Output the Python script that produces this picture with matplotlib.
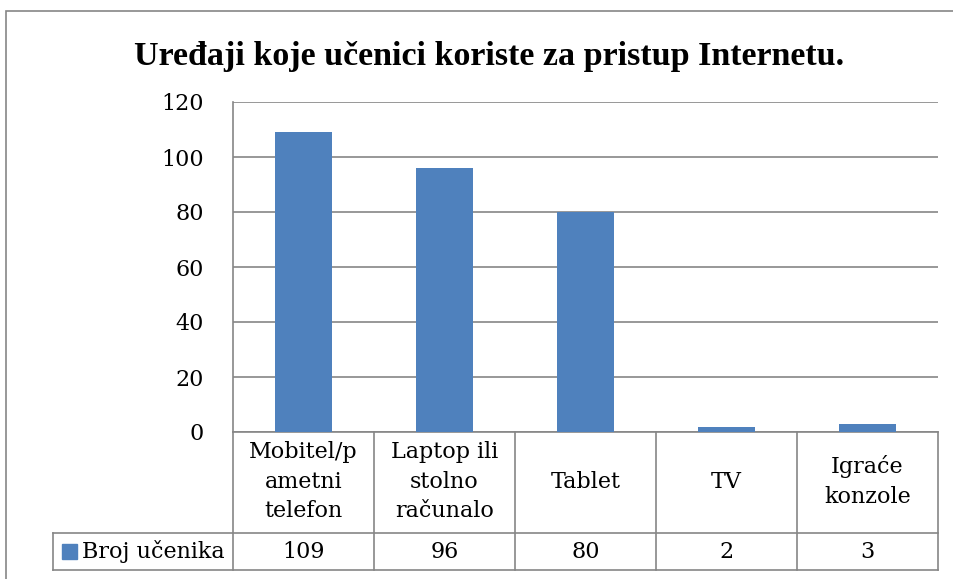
import matplotlib.pyplot as plt
from matplotlib.patches import Rectangle
from matplotlib.transforms import blended_transform_factory

categories = ["Mobitel/p\nametni\ntelefon", "Laptop ili\nstolno\nračunalo", "Tablet", "TV", "Igraće\nkonzole"]
values = [109, 96, 80, 2, 3]
series_name = "Broj učenika"
y_ticks = [0, 20, 40, 60, 80, 100, 120]
title = "Uređaji koje učenici koriste za pristup Internetu."

plt.rcParams["font.family"] = ["DejaVu Serif"]
bar_color = "#4F81BD"
line_color = "#868686"
fs = 16

W, H = 954, 579
fig = plt.figure(figsize=(W / 100, H / 100), dpi=100)

# outer chart border (extends past right/bottom edge like the crop)
fig.patches.append(Rectangle((6 / W, -0.1), 1.2, 1 - 11 / H + 0.1, transform=fig.transFigure,
                             fill=False, edgecolor=line_color, linewidth=1.2))

left, right, top, bottom = 233, 938, 102, 432
ax = fig.add_axes([left / W, 1 - bottom / H, (right - left) / W, (bottom - top) / H])

x = list(range(len(values)))
ax.bar(x, values, width=0.4, color=bar_color, zorder=3)
ax.set_xlim(-0.5, len(values) - 0.5)
ax.set_ylim(0, 120)
ax.set_yticks(y_ticks)
ax.tick_params(axis="y", length=0, pad=21, labelsize=fs)
ax.set_xticks([])
ax.yaxis.grid(True, color=line_color, linewidth=1.2, zorder=0)
for s in ["top", "right"]:
    ax.spines[s].set_visible(False)
for s in ["left", "bottom"]:
    ax.spines[s].set_color(line_color)
    ax.spines[s].set_linewidth(1.2)

fig.text(489 / W, 1 - 56 / H, title, ha="center", va="center", fontsize=24.5,
         fontweight="bold", family="Liberation Serif")

# data table below the plot
tr = blended_transform_factory(ax.transData, ax.transAxes)
px = (right - left) / len(values)   # pixels per category
ph = bottom - top
row1 = -(533 - bottom) / ph
row2 = -(570 - bottom) / ph
leg_left = -0.5 - (left - 53) / px
n = len(values)
kw = dict(color=line_color, linewidth=1.2, transform=tr, clip_on=False)
for b in range(n + 1):
    ax.plot([b - 0.5, b - 0.5], [0, row2], **kw)
ax.plot([leg_left, leg_left], [row1, row2], **kw)
ax.plot([leg_left, n - 0.5], [row1, row1], **kw)
ax.plot([leg_left, n - 0.5], [row2, row2], **kw)

for i, (c, v) in enumerate(zip(categories, values)):
    ax.text(i, row1 / 2 + 1 / ph, c, ha="center", va="center", fontsize=fs, linespacing=1.47,
            transform=tr, clip_on=False)
    ax.text(i, (row1 + row2) / 2, str(v), ha="center", va="center", fontsize=fs,
            transform=tr, clip_on=False)

ax.add_patch(Rectangle((leg_left + 9 / px, (row1 + row2) / 2 - 7 / ph), 15 / px, 15 / ph,
                       transform=tr, color=bar_color, clip_on=False))
ax.text(leg_left + 29 / px, (row1 + row2) / 2, series_name, ha="left", va="center",
        fontsize=fs, transform=tr, clip_on=False)

fig.savefig("out.png", dpi=100)
plt.close(fig)
